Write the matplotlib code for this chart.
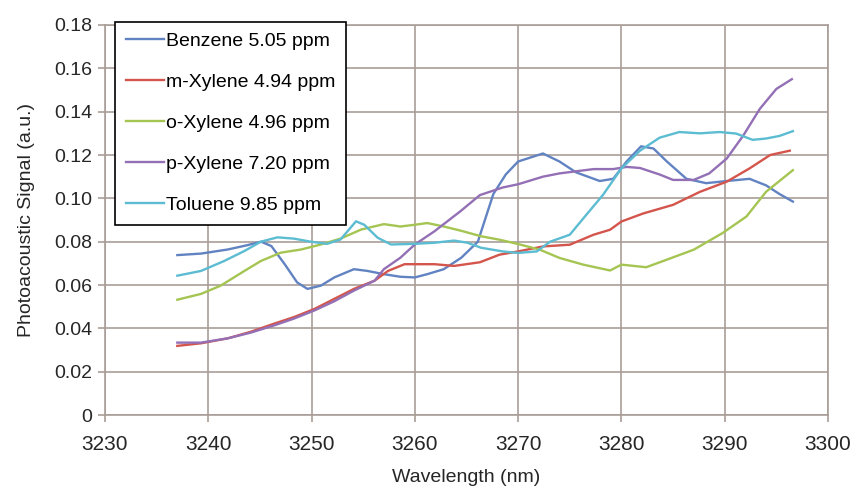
import matplotlib
matplotlib.use("Agg")
import matplotlib.pyplot as plt

benzene_x = [3237, 3239.3, 3241.9, 3243.8, 3245.1, 3246.1, 3247.4, 3248.6, 3249.6, 3250.9, 3252.2, 3254.1,
             3255.4, 3257, 3258.6, 3260, 3261.2, 3262.8, 3264.5, 3266.1, 3267.6, 3268.8, 3270, 3272.4, 3274,
             3275.6, 3277.9, 3279.2, 3280.5, 3281.9, 3283.1, 3284.4, 3286.3, 3288.2, 3290.2, 3292.4, 3294,
             3295.3, 3296.6]
benzene_y = [0.0738, 0.0745, 0.0764, 0.0784, 0.080, 0.078, 0.0696, 0.0612, 0.0582, 0.0597, 0.0635, 0.0673,
             0.0665, 0.065, 0.0638, 0.0635, 0.065, 0.0673, 0.0726, 0.080, 0.102, 0.111, 0.117, 0.1207, 0.117,
             0.112, 0.108, 0.109, 0.117, 0.124, 0.123, 0.117, 0.109, 0.107, 0.108, 0.109, 0.106,
             0.102, 0.0985]

mxylene_x = [3237, 3239.3, 3241.9, 3244.1, 3246.4, 3248.3, 3250.3, 3252.2, 3254.1, 3256.1, 3257.4, 3259,
             3261.9, 3263.8, 3266.3, 3268.2, 3270, 3272.4, 3275, 3277.3, 3278.9, 3280, 3282.1, 3285, 3287.6,
             3290.2, 3292.4, 3294.4, 3296.3]
mxylene_y = [0.0319, 0.0331, 0.0354, 0.0384, 0.0422, 0.0452, 0.049, 0.0536, 0.0582, 0.062, 0.0665, 0.0696,
             0.0696, 0.0688, 0.0705, 0.074, 0.0755, 0.0778, 0.0786, 0.0832, 0.0855, 0.0893, 0.093, 0.097, 0.103,
             0.1077, 0.1138, 0.120, 0.122]

oxylene_x = [3237, 3239.3, 3241.2, 3243.5, 3245.1, 3247, 3249, 3250.9, 3252.8, 3254.8, 3257, 3258.6, 3260,
             3261.2, 3262.8, 3264.5, 3266.4, 3268.2, 3270, 3272.1, 3274, 3276.3, 3278.9, 3280, 3282.4, 3284.4,
             3287, 3289.8, 3292.1, 3294, 3296.6]
oxylene_y = [0.0532, 0.0559, 0.0597, 0.0665, 0.0711, 0.0749, 0.0764, 0.0787, 0.0814, 0.0856, 0.0881, 0.087,
             0.0878, 0.0886, 0.087, 0.085, 0.0825, 0.0809, 0.0789, 0.0763, 0.0725, 0.0694, 0.0667, 0.0694,
             0.0682, 0.0717, 0.0763, 0.084, 0.0916, 0.103, 0.113]

pxylene_x = [3237, 3239.3, 3241.9, 3244.1, 3246.4, 3248.3, 3250.3, 3252.2, 3254.1, 3256.1, 3257, 3258.6, 3260,
             3261.9, 3264.4, 3266.3, 3268.5, 3270, 3272.4, 3274, 3277.3, 3279.2, 3280.5, 3281.8, 3283.7, 3285,
             3287, 3288.5, 3290.2, 3291.8, 3293.4, 3295, 3296.5]
pxylene_y = [0.0334, 0.0334, 0.0354, 0.038, 0.0414, 0.0445, 0.0483, 0.0525, 0.0574, 0.062, 0.0673, 0.0726,
             0.0787, 0.0848, 0.094, 0.1015, 0.105, 0.1065, 0.110, 0.1115, 0.1135, 0.1135, 0.1145, 0.114, 0.111,
             0.1085, 0.1085, 0.1115, 0.1184, 0.129, 0.1413, 0.1505, 0.155]

toluene_x = [3237, 3239.3, 3241.5, 3243.5, 3245.1, 3246.7, 3248.3, 3249.9, 3251.5, 3252.8, 3254.3, 3255.1,
             3256.4, 3257.7, 3260, 3261.9, 3263.8, 3265.1, 3266.4, 3268.5, 3270, 3271.8, 3273.1, 3275, 3276.6,
             3278.2, 3280, 3281.8, 3283.7, 3285.6, 3287.6, 3289.5, 3291.1, 3292.7, 3294, 3295.3, 3296.6]
toluene_y = [0.0643, 0.0665, 0.071, 0.0757, 0.080, 0.082, 0.0814, 0.080, 0.079, 0.081, 0.0894, 0.0878,
             0.0818, 0.0787, 0.079, 0.0795, 0.0805, 0.0795, 0.0772, 0.0755, 0.0748, 0.0755, 0.080, 0.0832,
             0.0924, 0.1015, 0.1138, 0.122, 0.128, 0.1306, 0.130, 0.1306, 0.1299, 0.127, 0.1276, 0.1288, 0.131]

series_labels = ["Benzene 5.05 ppm", "m-Xylene 4.94 ppm", "o-Xylene 4.96 ppm",
                 "p-Xylene 7.20 ppm", "Toluene 9.85 ppm"]
series_colors = ["#6283c2", "#d4554c", "#a5c553", "#9370b5", "#5cbcd2"]

x_ticks = [3230, 3240, 3250, 3260, 3270, 3280, 3290, 3300]
y_ticks = [0, 0.02, 0.04, 0.06, 0.08, 0.10, 0.12, 0.14, 0.16, 0.18]
y_tick_labels = ["0", "0.02", "0.04", "0.06", "0.08", "0.10", "0.12", "0.14", "0.16", "0.18"]

grid_color = "#a99d98"
text_color = "#262626"

fig = plt.figure(figsize=(8.57, 4.88), dpi=100)
ax = fig.add_axes([105 / 857, 1 - 415 / 488, 723 / 857, 390 / 488])

data = [(benzene_x, benzene_y), (mxylene_x, mxylene_y), (oxylene_x, oxylene_y),
        (pxylene_x, pxylene_y), (toluene_x, toluene_y)]
for (xs, ys), lab, col in zip(data, series_labels, series_colors):
    ax.plot(xs, ys, color=col, lw=1.7, label=lab)

ax.set_xlim(3230, 3300)
ax.set_ylim(0, 0.18)
ax.set_xticks(x_ticks)
ax.set_xticklabels([str(t) for t in x_ticks], family="Liberation Sans", fontsize=15)
ax.set_yticks(y_ticks)
ax.set_yticklabels(y_tick_labels, family="Liberation Sans", fontsize=14)
ax.grid(True, color=grid_color, lw=1.2)
ax.set_axisbelow(True)
for s in ax.spines.values():
    s.set_color(grid_color)
    s.set_linewidth(1.2)
ax.tick_params(axis="both", colors=grid_color, labelcolor=text_color, length=5, width=1.2)
ax.tick_params(axis="x", pad=9.5)
ax.tick_params(axis="y", pad=4)

ax.set_xlabel("Wavelength (nm)", family="Liberation Sans", fontsize=14,
              color=text_color, labelpad=11)
ax.set_ylabel("Photoacoustic Signal (a.u.)", family="Liberation Sans", fontsize=14,
              color=text_color, labelpad=14)

leg = ax.legend(loc="upper left", bbox_to_anchor=(0.014, 1.008), borderaxespad=0,
                fancybox=False, edgecolor="black", framealpha=1,
                prop={"family": "Liberation Sans", "size": 14},
                handlelength=1.95, handletextpad=0.1, labelspacing=1.2,
                borderpad=0.55)
leg.get_frame().set_linewidth(1.2)

fig.savefig("out.png", dpi=100)
